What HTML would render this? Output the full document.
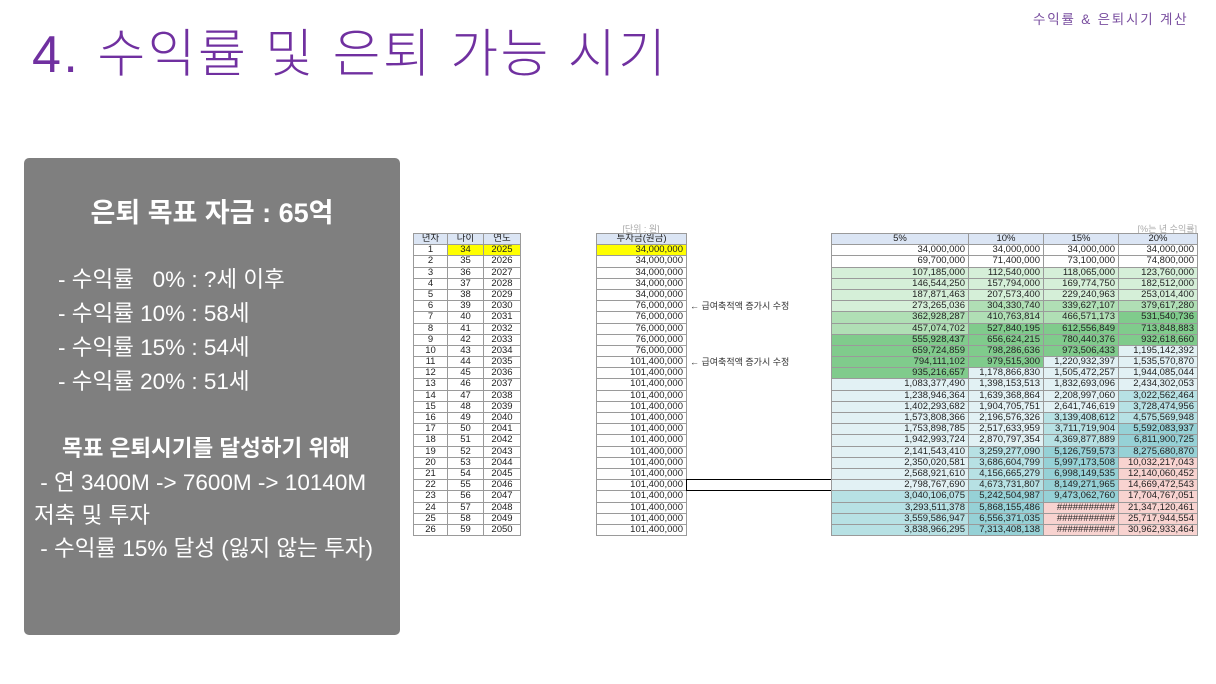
<!DOCTYPE html>
<html><head><meta charset="utf-8">
<style>
*{margin:0;padding:0;box-sizing:border-box}
body{width:1216px;height:684px;background:#fff;position:relative;overflow:hidden;font-family:"Liberation Sans","Noto Sans CJK KR",sans-serif}
.a{position:absolute;white-space:nowrap}
.title{left:32px;top:12px;font-size:52px;color:#7030a0;font-weight:300;letter-spacing:2.5px}
.top{left:1033px;top:8px;font-size:13.5px;color:#7a4fa0;letter-spacing:1.8px}
.box{left:24px;top:158px;width:376px;height:477px;background:#7f7f7f;border-radius:5px;color:#fff}
.g{display:grid;position:absolute;grid-auto-rows:11.2px;border-left:1px solid #9a9a9a;border-top:1px solid #9a9a9a;font-size:9.5px;line-height:10.5px;color:#222}
.g div{border-right:1px solid #9a9a9a;border-bottom:1px solid #9a9a9a;overflow:hidden;white-space:nowrap}
.c div{text-align:center}
.r div{text-align:right;padding-right:3px}
.g .h{background:#dbe5f4;text-align:center;padding:0}
.y{background:#ffff00}
.g1{background:#d5efd8}.g2{background:#b0dfb5}.g3{background:#80cb8c}
.b1{background:#e2f1f4}.b2{background:#b7e1e4}.b3{background:#96d1d6}.p{background:#f8d3d0}
.note{font-size:9px;color:#333}
</style></head><body>
<div class="a top">수익률 &amp; 은퇴시기 계산</div>
<div class="a title">4. 수익률 및 은퇴 가능 시기</div>
<div class="a box">
 <div class="a" style="left:0;width:376px;text-align:center;top:33px;font-size:27px;font-weight:bold">은퇴 목표 자금 : 65억</div>
 <div class="a" style="left:34px;top:105px;font-size:22.5px;line-height:34px">- 수익률 &nbsp;&nbsp;0% : ?세 이후<br>- 수익률 10% : 58세<br>- 수익률 15% : 54세<br>- 수익률 20% : 51세</div>
 <div class="a" style="left:38px;top:273px;font-size:22.5px;font-weight:bold">목표 은퇴시기를 달성하기 위해</div>
 <div class="a" style="left:10px;top:308px;font-size:22.5px;line-height:33px">&nbsp;- 연 3400M -&gt; 7600M -&gt; 10140M<br>저축 및 투자<br>&nbsp;- 수익률 15% 달성 (잃지 않는 투자)</div>
</div>

<div class="g c" style="left:413px;top:233px;grid-template-columns:34px 36px 37px">
<div class="h">년차</div><div class="h">나이</div><div class="h">연도</div>
<div>1</div><div class="y">34</div><div class="y">2025</div>
<div>2</div><div>35</div><div>2026</div>
<div>3</div><div>36</div><div>2027</div>
<div>4</div><div>37</div><div>2028</div>
<div>5</div><div>38</div><div>2029</div>
<div>6</div><div>39</div><div>2030</div>
<div>7</div><div>40</div><div>2031</div>
<div>8</div><div>41</div><div>2032</div>
<div>9</div><div>42</div><div>2033</div>
<div>10</div><div>43</div><div>2034</div>
<div>11</div><div>44</div><div>2035</div>
<div>12</div><div>45</div><div>2036</div>
<div>13</div><div>46</div><div>2037</div>
<div>14</div><div>47</div><div>2038</div>
<div>15</div><div>48</div><div>2039</div>
<div>16</div><div>49</div><div>2040</div>
<div>17</div><div>50</div><div>2041</div>
<div>18</div><div>51</div><div>2042</div>
<div>19</div><div>52</div><div>2043</div>
<div>20</div><div>53</div><div>2044</div>
<div>21</div><div>54</div><div>2045</div>
<div>22</div><div>55</div><div>2046</div>
<div>23</div><div>56</div><div>2047</div>
<div>24</div><div>57</div><div>2048</div>
<div>25</div><div>58</div><div>2049</div>
<div>26</div><div>59</div><div>2050</div>
</div>

<div class="a" style="left:596px;top:222px;width:90px;text-align:center;font-size:9px;color:#aaa">[단위 : 원]</div>
<div class="g r" style="left:596px;top:233px;grid-template-columns:90px">
<div class="h">투자금(원금)</div>
<div class="y">34,000,000</div><div>34,000,000</div><div>34,000,000</div><div>34,000,000</div><div>34,000,000</div>
<div>76,000,000</div><div>76,000,000</div><div>76,000,000</div><div>76,000,000</div><div>76,000,000</div>
<div>101,400,000</div><div>101,400,000</div><div>101,400,000</div><div>101,400,000</div><div>101,400,000</div>
<div>101,400,000</div><div>101,400,000</div><div>101,400,000</div><div>101,400,000</div><div>101,400,000</div>
<div>101,400,000</div><div>101,400,000</div><div>101,400,000</div><div>101,400,000</div><div>101,400,000</div>
<div>101,400,000</div>
</div>
<div class="a note" style="left:690px;top:299px">← 급여축적액 증가시 수정</div>
<div class="a note" style="left:690px;top:355px">← 급여축적액 증가시 수정</div>
<div class="a" style="left:686px;top:479px;width:146px;height:12px;border:1.5px solid #000"></div>

<div class="a" style="left:1100px;top:222px;width:97px;text-align:right;font-size:9px;color:#aaa">[%는 년 수익률]</div>
<div class="g r" style="left:831px;top:233px;grid-template-columns:137px 75px 75px 79px">
<div class="h">5%</div><div class="h">10%</div><div class="h">15%</div><div class="h">20%</div>
<div>34,000,000</div><div>34,000,000</div><div>34,000,000</div><div>34,000,000</div>
<div>69,700,000</div><div>71,400,000</div><div>73,100,000</div><div>74,800,000</div>
<div class="g1">107,185,000</div><div class="g1">112,540,000</div><div class="g1">118,065,000</div><div class="g1">123,760,000</div>
<div class="g1">146,544,250</div><div class="g1">157,794,000</div><div class="g1">169,774,750</div><div class="g1">182,512,000</div>
<div class="g1">187,871,463</div><div class="g1">207,573,400</div><div class="g1">229,240,963</div><div class="g1">253,014,400</div>
<div class="g1">273,265,036</div><div class="g2">304,330,740</div><div class="g2">339,627,107</div><div class="g2">379,617,280</div>
<div class="g2">362,928,287</div><div class="g2">410,763,814</div><div class="g2">466,571,173</div><div class="g3">531,540,736</div>
<div class="g2">457,074,702</div><div class="g3">527,840,195</div><div class="g3">612,556,849</div><div class="g3">713,848,883</div>
<div class="g3">555,928,437</div><div class="g3">656,624,215</div><div class="g3">780,440,376</div><div class="g3">932,618,660</div>
<div class="g3">659,724,859</div><div class="g3">798,286,636</div><div class="g3">973,506,433</div><div class="b1">1,195,142,392</div>
<div class="g3">794,111,102</div><div class="g3">979,515,300</div><div class="b1">1,220,932,397</div><div class="b1">1,535,570,870</div>
<div class="g3">935,216,657</div><div class="b1">1,178,866,830</div><div class="b1">1,505,472,257</div><div class="b1">1,944,085,044</div>
<div class="b1">1,083,377,490</div><div class="b1">1,398,153,513</div><div class="b1">1,832,693,096</div><div class="b1">2,434,302,053</div>
<div class="b1">1,238,946,364</div><div class="b1">1,639,368,864</div><div class="b1">2,208,997,060</div><div class="b2">3,022,562,464</div>
<div class="b1">1,402,293,682</div><div class="b1">1,904,705,751</div><div class="b1">2,641,746,619</div><div class="b2">3,728,474,956</div>
<div class="b1">1,573,808,366</div><div class="b1">2,196,576,326</div><div class="b2">3,139,408,612</div><div class="b2">4,575,569,948</div>
<div class="b1">1,753,898,785</div><div class="b1">2,517,633,959</div><div class="b2">3,711,719,904</div><div class="b3">5,592,083,937</div>
<div class="b1">1,942,993,724</div><div class="b1">2,870,797,354</div><div class="b2">4,369,877,889</div><div class="b3">6,811,900,725</div>
<div class="b1">2,141,543,410</div><div class="b2">3,259,277,090</div><div class="b3">5,126,759,573</div><div class="b3">8,275,680,870</div>
<div class="b1">2,350,020,581</div><div class="b2">3,686,604,799</div><div class="b3">5,997,173,508</div><div class="p">10,032,217,043</div>
<div class="b1">2,568,921,610</div><div class="b2">4,156,665,279</div><div class="b3">6,998,149,535</div><div class="p">12,140,060,452</div>
<div class="b1">2,798,767,690</div><div class="b2">4,673,731,807</div><div class="b3">8,149,271,965</div><div class="p">14,669,472,543</div>
<div class="b2">3,040,106,075</div><div class="b3">5,242,504,987</div><div class="b3">9,473,062,760</div><div class="p">17,704,767,051</div>
<div class="b2">3,293,511,378</div><div class="b3">5,868,155,486</div><div class="p">###########</div><div class="p">21,347,120,461</div>
<div class="b2">3,559,586,947</div><div class="b3">6,556,371,035</div><div class="p">###########</div><div class="p">25,717,944,554</div>
<div class="b2">3,838,966,295</div><div class="b3">7,313,408,138</div><div class="p">###########</div><div class="p">30,962,933,464</div>
</div>
</body></html>
